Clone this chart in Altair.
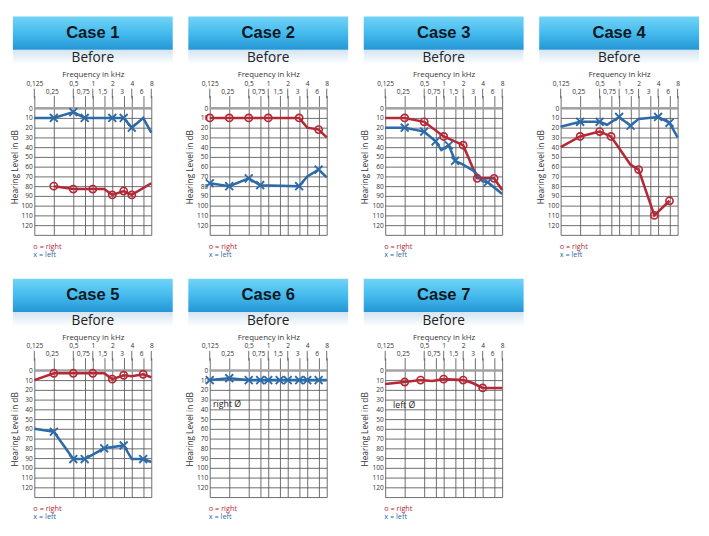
import altair as alt
import pandas as pd

# ---------------- data ----------------
FREQ_TICKS = [0.125, 0.25, 0.5, 0.75, 1, 1.5, 2, 3, 4, 6, 8]
UPPER_LABEL_FREQS = [0.125, 0.5, 1, 2, 4, 8]
DB_GRID = [0, 10, 20, 30, 40, 50, 60, 70, 80, 90, 100, 110, 120, 130]

# (frequency kHz, hearing level dB, symbol drawn 1/0)
CASE1_RIGHT = [(0.25, 80, 1), (0.5, 83, 1), (1, 83, 1), (1.5, 83, 0), (2, 89, 1), (3, 85, 1), (4, 89, 1), (8, 77, 0)]
CASE1_LEFT = [(0.125, 10, 0), (0.25, 10, 1), (0.5, 4, 1), (0.75, 10, 1), (2, 10, 1), (3, 10, 1), (4, 20, 1), (6, 10, 0), (8, 25, 0)]

CASE2_RIGHT = [(0.125, 10, 1), (0.25, 10, 1), (0.5, 10, 1), (1, 10, 1), (3, 10, 1), (4, 20, 0), (6, 22, 1), (8, 30, 0)]
CASE2_LEFT = [(0.125, 77, 1), (0.25, 80, 1), (0.5, 72, 1), (0.75, 79, 1), (3, 80, 1), (4, 70, 0), (6, 63, 1), (8, 71, 0)]

CASE3_RIGHT = [(0.125, 10, 0), (0.25, 10, 1), (0.5, 14, 1), (1, 29, 1), (2, 38, 1), (3.3, 72, 1), (6, 72, 1), (8, 84, 0)]
CASE3_LEFT = [(0.125, 20, 0), (0.25, 20, 1), (0.5, 24, 1), (0.75, 34, 1), (0.92, 43, 0), (1.2, 38, 1), (1.5, 54, 1),
              (2, 58, 0), (3, 65, 0), (4, 75, 0), (4.8, 76, 1), (8, 88, 0)]

CASE4_RIGHT = [(0.125, 40, 0), (0.25, 29, 1), (0.5, 24, 1), (0.75, 29, 1), (1.5, 58, 0), (2, 63, 1), (3.5, 110, 1), (6, 95, 1)]
CASE4_LEFT = [(0.125, 19, 0), (0.25, 14, 1), (0.5, 14, 1), (0.65, 17, 0), (1, 9, 1), (1.5, 18, 1), (2, 11, 0), (4, 9, 1),
              (6, 15, 1), (8, 30, 0)]

CASE5_RIGHT = [(0.125, 10, 0), (0.25, 3, 1), (0.5, 3, 1), (1, 3, 1), (1.5, 3, 0), (2, 9, 1), (3, 5, 1), (4, 6, 0), (6, 4, 1), (8, 7, 0)]
CASE5_LEFT = [(0.125, 60, 0), (0.25, 63, 1), (0.5, 91, 1), (0.75, 91, 1), (1.5, 80, 1), (3, 77, 1), (4, 91, 0), (6, 91, 1), (8, 94, 0)]

CASE6_RIGHT = []
CASE6_LEFT = [(0.125, 10, 1), (0.25, 8, 1), (0.5, 10, 1), (0.75, 10, 1), (1, 10, 1), (1.5, 10, 1), (2, 10, 1), (3, 10, 1),
              (4, 10, 1), (6, 10, 1), (8, 10, 0)]
CASE6_NOTE = (0.14, 35, "right Ø")

CASE7_RIGHT = [(0.125, 14, 0), (0.25, 12, 1), (0.44, 10, 1), (0.67, 11, 0), (1, 9, 1), (2, 10, 1), (2.8, 13, 0), (4, 18, 1), (8, 18, 0)]
CASE7_LEFT = []
CASE7_NOTE = (0.165, 36, "left Ø")

CASES = [
    (1, CASE1_RIGHT, CASE1_LEFT, None),
    (2, CASE2_RIGHT, CASE2_LEFT, None),
    (3, CASE3_RIGHT, CASE3_LEFT, None),
    (4, CASE4_RIGHT, CASE4_LEFT, None),
    (5, CASE5_RIGHT, CASE5_LEFT, None),
    (6, CASE6_RIGHT, CASE6_LEFT, CASE6_NOTE),
    (7, CASE7_RIGHT, CASE7_LEFT, CASE7_NOTE),
]

# ---------------- style ----------------
RED = "#b52836"
BLUE = "#2c6ba8"
GRID = "#5a5a5a"
W = 120
H = 140
FONT = "Open Sans"

XSCALE = alt.Scale(type="log", base=2, domain=[0.125, 8], nice=False)
YSCALE = alt.Scale(domain=[-10, 130], reverse=True, nice=False, zero=False)

UPPER_TEST = "indexof([0.125,0.5,1,2,4,8], datum.value) >= 0"

XAXIS = alt.Axis(orient="top", values=FREQ_TICKS, format="~g",
                 labelExpr="replace(datum.label, '.', ',')",
                 labelPadding={"condition": {"test": UPPER_TEST, "value": 9}, "value": 1},
                 labelOffset={"condition": {"test": UPPER_TEST, "value": 0}, "value": -2},
                 title="Frequency in kHz", titleFontSize=8, titlePadding=2, titleFontWeight="normal",
                 titleColor="#333", labelColor="#333", labelFontSize=6.8,
                 tickSize=3, ticks=True, tickColor=GRID, tickWidth=0.9,
                 domain=False, grid=True, gridColor=GRID, gridWidth=0.9, gridOpacity=1,
                 labelFlush=False, labelOverlap=False, labelBound=False)

YAXIS = alt.Axis(values=DB_GRID, labelExpr="datum.value > 120 ? '' : datum.label",
                 title="Hearing Level in dB", titleFontSize=8.5, titlePadding=2, titleFontWeight="normal",
                 titleColor="#333", labelColor="#333", labelFontSize=6.8, labelPadding=2,
                 ticks=False, domain=False, grid=True, gridColor=GRID, gridWidth=0.9, gridOpacity=1)

BANNER_FILL = alt.LinearGradient(
    gradient="linear",
    stops=[alt.GradientStop(color="#72d3f7", offset=0),
           alt.GradientStop(color="#45bbed", offset=0.5),
           alt.GradientStop(color="#2596d6", offset=1)],
    x1=0, x2=0, y1=0, y2=1)
GLOW_FILL = alt.LinearGradient(
    gradient="linear",
    stops=[alt.GradientStop(color="#d3e4f1", offset=0),
           alt.GradientStop(color="#ffffff", offset=1)],
    x1=0, x2=0, y1=0, y2=1)


def frame(points):
    return pd.DataFrame(points, columns=["freq", "db", "m"])


def panel(n, right, left, note):
    x = alt.X("freq:Q", scale=XSCALE, axis=XAXIS)
    y = alt.Y("db:Q", scale=YSCALE, axis=YAXIS)
    layers = []
    layers.append(alt.Chart(pd.DataFrame({"db": [0]})).mark_rule(color="#a3a3a3", strokeWidth=2.5).encode(y=y))
    layers.append(alt.Chart(pd.DataFrame({"freq": UPPER_LABEL_FREQS})).mark_rule(color=GRID, strokeWidth=0.9)
                  .encode(x=x, y=alt.value(-10), y2=alt.value(0)))
    if right:
        layers.append(alt.Chart(frame(right)).mark_line(color=RED, strokeWidth=2.6).encode(x=x, y=y))
    if left:
        layers.append(alt.Chart(frame(left)).mark_line(color=BLUE, strokeWidth=2.6).encode(x=x, y=y))
    if right:
        d = frame(right)
        layers.append(alt.Chart(d[d.m == 1]).mark_point(shape="circle", size=55, filled=False, strokeWidth=1.7,
                                                         color=RED, opacity=1).encode(x=x, y=y))
    if left:
        d = frame(left)
        layers.append(alt.Chart(d[d.m == 1]).mark_point(shape="M-1,-1L1,1M-1,1L1,-1", size=65, filled=False,
                                                         strokeWidth=1.9, color=BLUE, opacity=1).encode(x=x, y=y))
    if note:
        nd = pd.DataFrame([note], columns=["freq", "db", "label"])
        layers.append(alt.Chart(nd).mark_text(align="left", baseline="middle", fontSize=9, font=FONT, color="#222")
                      .encode(x=x, y=y, text="label:N"))
    # header banner and texts
    one = pd.DataFrame({"label": [f"Case {n}"]})
    layers.append(alt.Chart(one).mark_rect(color=GLOW_FILL)
                  .encode(x=alt.value(-22), x2=alt.value(W + 22), y=alt.value(-50), y2=alt.value(-35)))
    layers.append(alt.Chart(one).mark_rect(color=BANNER_FILL)
                  .encode(x=alt.value(-22), x2=alt.value(W + 22), y=alt.value(-84), y2=alt.value(-50)))
    layers.append(alt.Chart(one).mark_text(font="Liberation Sans", fontWeight="bold", fontSize=17, color="#0e1822",
                                           baseline="middle")
                  .encode(x=alt.value(W / 2), y=alt.value(-67), text="label:N"))
    layers.append(alt.Chart(pd.DataFrame({"label": ["Before"]})).mark_text(font=FONT, fontSize=14, color="#222",
                                                                          baseline="middle")
                  .encode(x=alt.value(W / 2), y=alt.value(-41), text="label:N"))
    layers.append(alt.Chart(pd.DataFrame({"label": ["o = right"]})).mark_text(font=FONT, fontSize=7.5, color=RED,
                                                                             align="left", baseline="middle")
                  .encode(x=alt.value(-1), y=alt.value(H + 12), text="label:N"))
    layers.append(alt.Chart(pd.DataFrame({"label": ["x = left"]})).mark_text(font=FONT, fontSize=7.5, color=BLUE,
                                                                            align="left", baseline="middle")
                  .encode(x=alt.value(-1), y=alt.value(H + 21), text="label:N"))
    return alt.layer(*layers).properties(width=W, height=H)


panels = [panel(*c) for c in CASES]

chart = (alt.concat(*panels, columns=4, spacing={"row": 20, "column": 13})
         .properties(padding=2, background="white")
         .configure_view(stroke=None)
         .configure_axis(labelFont=FONT, titleFont=FONT))

chart.save("out.html", embed_options={"renderer": "svg", "actions": False})
